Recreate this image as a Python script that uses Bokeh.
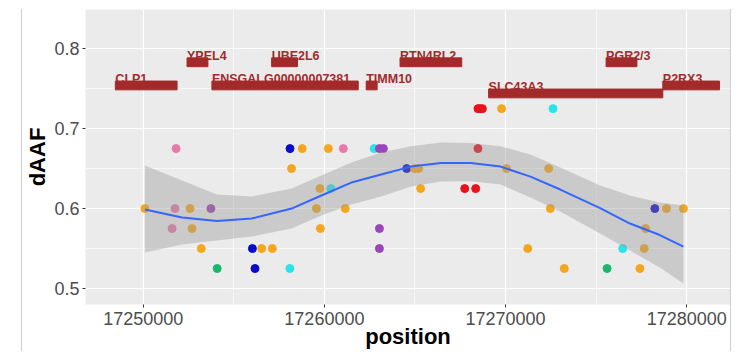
from bokeh.plotting import figure
from bokeh.models import (Range1d, FixedTicker, NumeralTickFormatter, ColumnDataSource)
from bokeh.core.properties import value
from bokeh.embed import file_html
from bokeh.resources import INLINE

# ---------------- data ----------------
gene_names = ["CLP1", "YPEL4", "UBE2L6", "ENSGALG00000007381", "TIMM10",
              "RTN4RL2", "PGR2/3", "SLC43A3", "P2RX3"]
gene_start = [17248462, 17252418, 17257088, 17253791, 17262308,
              17264176, 17275549, 17269066, 17278681]
gene_end = [17251868, 17253571, 17258516, 17261868, 17262912,
            17267582, 17277253, 17278681, 17281813]
gene_level = [0.754, 0.783, 0.783, 0.754, 0.754, 0.783, 0.783, 0.744, 0.754]

snp_pos = [17250093, 17251758, 17251813, 17252582, 17253736, 17251593, 17252692,
           17253203, 17256027, 17256538, 17257126, 17254082, 17256170, 17258093,
           17258104, 17258187, 17258775, 17260220, 17261044, 17262747, 17263038,
           17263258, 17264544, 17264983, 17265203, 17259753, 17260357, 17265313,
           17259560, 17261154, 17259780, 17263038, 17263038, 17268478, 17268600,
           17268720, 17269780, 17272621, 17268478, 17270055, 17272379, 17267747,
           17268352, 17272473, 17271225, 17273242, 17278242, 17278885, 17279819,
           17277731, 17276467, 17277654, 17275604, 17277418]
snp_daaf = [0.600, 0.600, 0.675, 0.600, 0.600, 0.575, 0.575,
            0.550, 0.550, 0.550, 0.550, 0.525, 0.525, 0.525,
            0.675, 0.650, 0.675, 0.675, 0.675, 0.675, 0.675,
            0.675, 0.650, 0.650, 0.650, 0.625, 0.625, 0.625,
            0.600, 0.600, 0.575, 0.575, 0.550, 0.725, 0.725,
            0.725, 0.725, 0.725, 0.675, 0.650, 0.650, 0.625,
            0.625, 0.600, 0.550, 0.525, 0.600, 0.600, 0.600,
            0.575, 0.550, 0.550, 0.525, 0.525]
snp_group = ["orange", "pink", "pink", "orange", "purple", "pink", "orange",
             "orange", "blue", "orange", "orange", "green", "blue", "cyan",
             "blue", "orange", "orange", "orange", "pink", "cyan", "purple",
             "purple", "blue", "orange", "orange", "orange", "cyan", "orange",
             "orange", "orange", "orange", "purple", "purple", "red", "red",
             "red", "orange", "cyan", "red", "orange", "orange", "red",
             "red", "orange", "orange", "orange", "blue", "orange", "orange",
             "orange", "cyan", "orange", "green", "orange"]

smooth_x = [17250093, 17252143, 17254066, 17255989, 17258187, 17259835, 17261484,
            17263132, 17264780, 17266429, 17268077, 17269725, 17271374, 17273022,
            17275220, 17276868, 17278516, 17279819]
smooth_y = [0.5988, 0.5888, 0.5844, 0.5875, 0.6000, 0.6163, 0.6325,
            0.6425, 0.6525, 0.6571, 0.6569, 0.6525, 0.6400, 0.6238,
            0.6006, 0.5813, 0.5669, 0.5525]
smooth_lo = [0.5450, 0.5550, 0.5600, 0.5650, 0.5750, 0.5913, 0.6050,
             0.6150, 0.6275, 0.6338, 0.6341, 0.6300, 0.6138, 0.5963,
             0.5688, 0.5475, 0.5263, 0.5063]
smooth_hi = [0.6538, 0.6350, 0.6175, 0.6150, 0.6250, 0.6413, 0.6575,
             0.6700, 0.6780, 0.6825, 0.6819, 0.6779, 0.6675, 0.6513,
             0.6288, 0.6163, 0.6075, 0.6038]

x_ticks = [17250000, 17260000, 17270000, 17280000]
y_ticks = [0.5, 0.6, 0.7, 0.8]

# ---------------- styling ----------------
palette = {"orange": "#F4A71E", "pink": "#E67AAA", "purple": "#9A45B8",
           "blue": "#0A0ACB", "cyan": "#2AE4E8", "green": "#1BB66A",
           "red": "#E8121A"}
FONT = "Liberation Sans"
GENE_COL = "#A32A2B"
HALF_H = 0.0055

p = figure(width=710, height=342, output_backend="svg", toolbar_location=None,
           x_range=Range1d(17246813, 17282418), y_range=Range1d(0.48, 0.849),
           min_border_left=60, min_border_right=2, min_border_top=0,
           min_border_bottom=47)
p.margin = (9, 0, 0, 21)
p.styles = {"border-left": "1px solid #cfcfcf", "border-right": "1px solid #cfcfcf"}

p.background_fill_color = "#EBEBEB"
p.border_fill_color = "white"
p.outline_line_color = None

for ax in (p.xaxis[0], p.yaxis[0]):
    ax.axis_line_color = None
    ax.major_tick_line_color = "#333333"
    ax.major_tick_in = 0
    ax.major_tick_out = 3
    ax.minor_tick_line_color = None
    ax.major_label_text_font = FONT
    ax.major_label_text_font_size = "18px"
    ax.major_label_text_color = "#4D4D4D"
    ax.major_label_standoff = 3
    ax.axis_label_text_font = FONT
    ax.axis_label_text_font_style = "bold"
    ax.axis_label_text_font_size = "22px"
    ax.axis_label_text_color = "black"

p.xaxis.axis_label = "position"
p.yaxis.axis_label = "dAAF"
p.xaxis.axis_label_standoff = -4
p.yaxis.axis_label_standoff = 1

p.xaxis.ticker = FixedTicker(ticks=x_ticks, minor_ticks=[17245000, 17255000, 17265000, 17275000])
p.yaxis.ticker = FixedTicker(ticks=y_ticks, minor_ticks=[0.55, 0.65, 0.75])
p.xaxis.formatter = NumeralTickFormatter(format="0")
p.yaxis.formatter = NumeralTickFormatter(format="0.0")
p.yaxis.major_label_standoff = 2

for g in (p.xgrid[0], p.ygrid[0]):
    g.grid_line_color = "white"
    g.grid_line_width = 1.2
    g.minor_grid_line_color = "white"
    g.minor_grid_line_width = 0.6

# points
pts = ColumnDataSource(dict(x=snp_pos, y=snp_daaf,
                            c=[palette[g] for g in snp_group]))
p.scatter("x", "y", source=pts, size=8, fill_color="c", line_color="c")

# smoothing band + line
p.varea(x=smooth_x, y1=smooth_lo, y2=smooth_hi, fill_color="#999999", fill_alpha=0.4)
p.line(smooth_x, smooth_y, line_color="#3366FF", line_width=2)

# genes
gsrc = ColumnDataSource(dict(
    left=gene_start, right=gene_end,
    bottom=[v - HALF_H for v in gene_level],
    top=[v + HALF_H for v in gene_level],
    ty=[v + HALF_H + 0.0025 for v in gene_level],
    name=gene_names))
p.quad(left="left", right="right", bottom="bottom", top="top", source=gsrc,
       fill_color=GENE_COL, line_color=GENE_COL)
p.text(x="left", y="ty", text="name", source=gsrc, text_font=value(FONT),
       text_font_style="bold", text_font_size="12.5px", text_color=GENE_COL,
       text_align="left", text_baseline="alphabetic")

open("out.html", "w").write(file_html(p, INLINE))
